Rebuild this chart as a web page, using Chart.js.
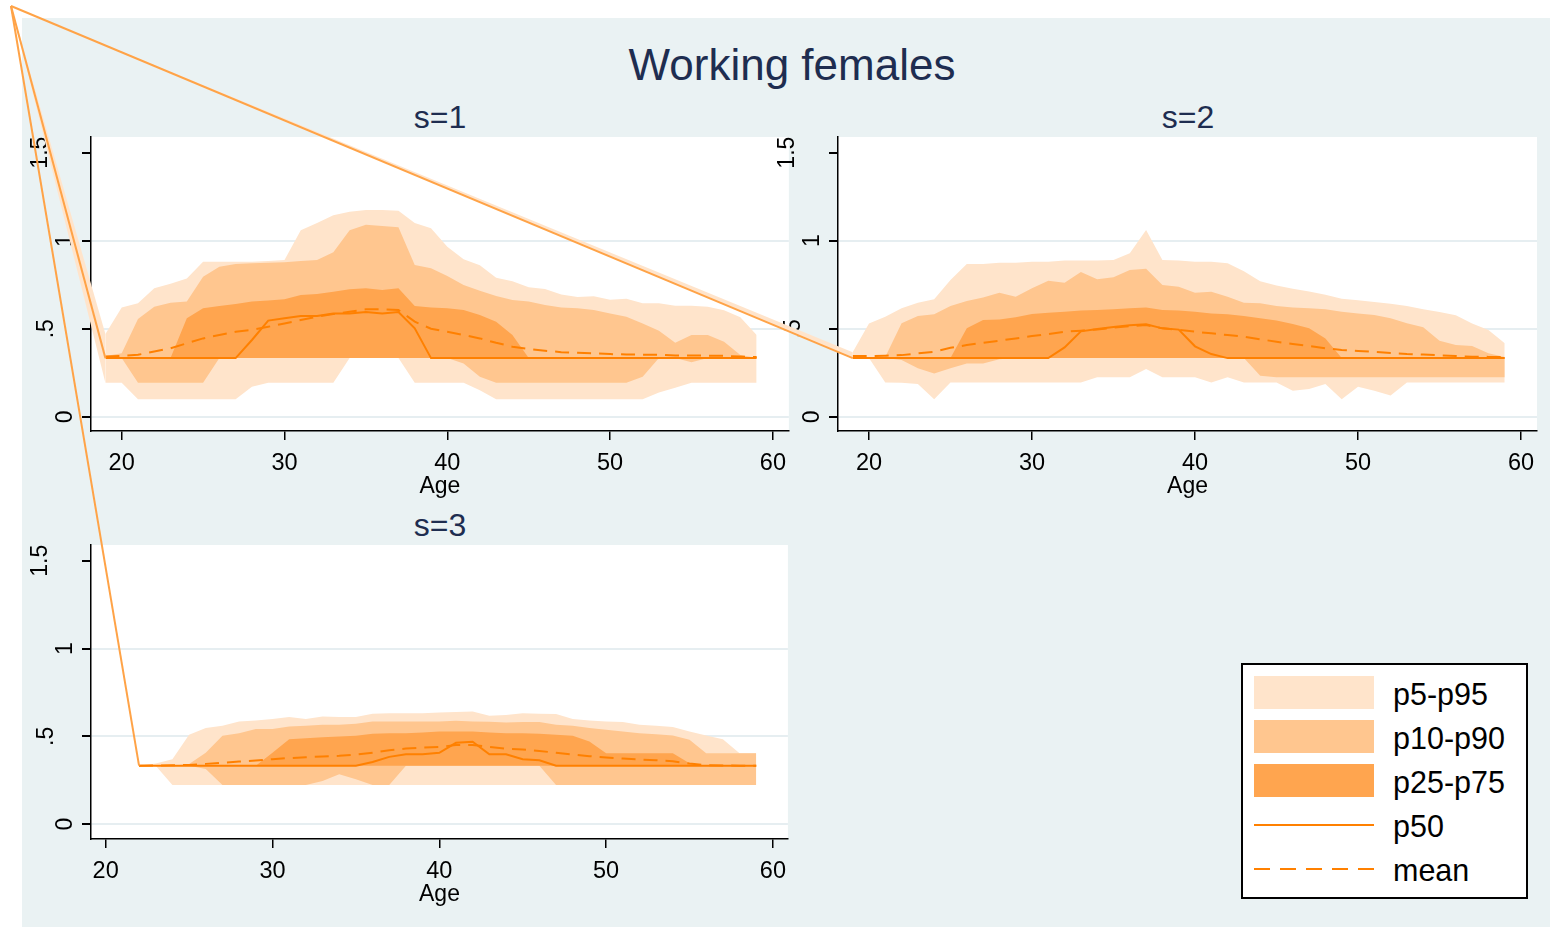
<!DOCTYPE html>
<html>
<head>
<meta charset="utf-8">
<script src="https://cdn.jsdelivr.net/npm/chart.js@4.4.1/dist/chart.umd.min.js"></script>
<style>
  body { margin: 0; background: #fff; }
  #page { position: relative; width: 1550px; height: 927px; overflow: hidden; font-family: 'Liberation Sans', Arial, Helvetica, sans-serif; }
  #bg { position: absolute; left: 22px; top: 18px; width: 1528px; height: 909px; background: #EAF2F3; }
  canvas { position: absolute; }
  .ttl { position: absolute; color: #1E2D50; text-align: center; white-space: nowrap; }
  #legend { position: absolute; left: 1241px; top: 663px; width: 287px; height: 236px; box-sizing: border-box; border: 2px solid #000; background: #fff; }
  #legend .sw { position: absolute; left: 11px; width: 120px; height: 33px; }
  #legend .tx { position: absolute; left: 150px; font-size: 30.5px; line-height: 34px; color: #000; }
</style>
</head>
<body>
<div id="page">
  <div id="bg"></div>
  <div class="ttl" style="left:0; width:1584px; top:43px; font-size:44px; line-height:44px;">Working females</div>
  <div class="ttl" style="left:340px; width:200px; top:101px; font-size:32px; line-height:32px;">s=1</div>
  <div class="ttl" style="left:1088px; width:200px; top:101px; font-size:32px; line-height:32px;">s=2</div>
  <div class="ttl" style="left:340px; width:200px; top:509px; font-size:32px; line-height:32px;">s=3</div>

  <canvas id="c1" width="768" height="375" style="left:22px; top:130px;"></canvas>
  <canvas id="c2" width="781" height="375" style="left:769px; top:130px;"></canvas>
  <canvas id="c3" width="768" height="375" style="left:22px; top:538px;"></canvas>
  <canvas id="ghost" width="1550" height="927" style="left:0; top:0;"></canvas>

  <div id="legend">
    <div class="sw" style="top:11px; background:#FFE4CB;"></div>
    <div class="sw" style="top:55px; background:#FFC68F;"></div>
    <div class="sw" style="top:99px; background:#FFA54F;"></div>
    <div style="position:absolute; left:11px; top:159px; width:120px; height:2px; background:#FF8000;"></div>
    <svg style="position:absolute; left:11px; top:198px;" width="120" height="12">
      <line x1="0" y1="6" x2="120" y2="6" stroke="#FF8000" stroke-width="2" stroke-dasharray="16,10"/>
    </svg>
    <div class="tx" style="top:12px;">p5-p95</div>
    <div class="tx" style="top:56px;">p10-p90</div>
    <div class="tx" style="top:100px;">p25-p75</div>
    <div class="tx" style="top:144px;">p50</div>
    <div class="tx" style="top:188px;">mean</div>
  </div>
</div>

<script>
const ages12 = [19, 20, 21, 22, 23, 24, 25, 26, 27, 28, 29, 30, 31, 32, 33, 34, 35, 36, 37, 38, 39,
    40, 41, 42, 43, 44, 45, 46, 47, 48, 49, 50, 51, 52, 53, 54, 55, 56, 57, 58, 59]
const ages3 = [22, 23, 24, 25, 26, 27, 28, 29, 30, 31, 32, 33, 34, 35, 36, 37, 38, 39,
    40, 41, 42, 43, 44, 45, 46, 47, 48, 49, 50, 51, 52, 53, 54, 55, 56, 57, 58, 59]

const xTicks = [20, 30, 40, 50, 60]
const yTicks = [0, 0.5, 1, 1.5]
const yTickLabels = ['0', '.5', '1', '1.5']

// s=1
const s1_p95 = [0.47, 0.62, 0.645, 0.73, 0.755, 0.785, 0.88, 0.88, 0.88, 0.88, 0.885, 0.89, 1.06, 1.10, 1.145, 1.165, 1.175, 1.175, 1.17, 1.10, 1.07,
    0.965, 0.895, 0.86, 0.79, 0.77, 0.735, 0.725, 0.695, 0.68, 0.685, 0.665, 0.67, 0.645, 0.645, 0.63, 0.63, 0.625, 0.605, 0.565, 0.465]
const s1_p90 = [0.345, 0.36, 0.555, 0.625, 0.648, 0.655, 0.795, 0.852, 0.868, 0.872, 0.875, 0.877, 0.885, 0.89, 0.935, 1.06, 1.09, 1.083, 1.076, 0.862, 0.843,
    0.80, 0.748, 0.716, 0.686, 0.663, 0.654, 0.635, 0.621, 0.616, 0.606, 0.587, 0.568, 0.53, 0.489, 0.42, 0.464, 0.464, 0.426, 0.35, 0.333]
const s1_p75 = [0.333, 0.333, 0.333, 0.333, 0.333, 0.559, 0.616, 0.629, 0.64, 0.654, 0.66, 0.667, 0.691, 0.697, 0.71, 0.724, 0.73, 0.72, 0.73, 0.629, 0.62,
    0.616, 0.606, 0.578, 0.54, 0.464, 0.333, 0.333, 0.333, 0.333, 0.333, 0.333, 0.333, 0.333, 0.333, 0.333, 0.333, 0.333, 0.333, 0.333, 0.333]
const s1_p25 = [0.333, 0.333, 0.333, 0.333, 0.333, 0.333, 0.333, 0.333, 0.333, 0.333, 0.333, 0.333, 0.333, 0.333, 0.333, 0.333, 0.333, 0.333, 0.333, 0.333, 0.333,
    0.333, 0.333, 0.333, 0.333, 0.333, 0.333, 0.333, 0.333, 0.333, 0.333, 0.333, 0.333, 0.333, 0.333, 0.333, 0.333, 0.333, 0.333, 0.333, 0.333]
const s1_p10 = [0.333, 0.333, 0.193, 0.193, 0.193, 0.193, 0.193, 0.333, 0.333, 0.333, 0.333, 0.333, 0.333, 0.333, 0.333, 0.333, 0.333, 0.333, 0.333, 0.333, 0.333,
    0.333, 0.303, 0.227, 0.193, 0.193, 0.193, 0.193, 0.193, 0.193, 0.193, 0.193, 0.193, 0.227, 0.333, 0.333, 0.31, 0.333, 0.333, 0.333, 0.333]
const s1_p5 = [0.193, 0.193, 0.10, 0.10, 0.10, 0.10, 0.10, 0.10, 0.10, 0.17, 0.193, 0.193, 0.193, 0.193, 0.193, 0.333, 0.333, 0.333, 0.333, 0.193, 0.193,
    0.193, 0.193, 0.15, 0.10, 0.10, 0.10, 0.10, 0.10, 0.10, 0.10, 0.10, 0.10, 0.10, 0.137, 0.165, 0.193, 0.193, 0.193, 0.193, 0.193]
const s1_p50 = [0.333, 0.333, 0.333, 0.333, 0.333, 0.333, 0.333, 0.333, 0.333, 0.436, 0.546, 0.559, 0.572, 0.572, 0.587, 0.587, 0.595, 0.587, 0.595, 0.502, 0.333,
    0.333, 0.333, 0.333, 0.333, 0.333, 0.333, 0.333, 0.333, 0.333, 0.333, 0.333, 0.333, 0.333, 0.333, 0.333, 0.333, 0.333, 0.333, 0.333, 0.333]
const s1_mean = [0.342, 0.346, 0.352, 0.37, 0.389, 0.417, 0.445, 0.464, 0.483, 0.493, 0.511, 0.53, 0.549, 0.568, 0.583, 0.597, 0.61, 0.61, 0.606, 0.54, 0.50,
    0.483, 0.464, 0.445, 0.42, 0.398, 0.385, 0.375, 0.367, 0.364, 0.36, 0.356, 0.354, 0.352, 0.352, 0.348, 0.348, 0.347, 0.346, 0.342, 0.339]

// s=2
const s2_p95 = [0.366, 0.53, 0.568, 0.616, 0.648, 0.667, 0.777, 0.868, 0.868, 0.875, 0.875, 0.881, 0.881, 0.887, 0.887, 0.887, 0.89, 0.928, 1.061, 0.89, 0.887,
    0.881, 0.881, 0.872, 0.826, 0.769, 0.746, 0.727, 0.712, 0.693, 0.67, 0.661, 0.652, 0.642, 0.629, 0.61, 0.595, 0.576, 0.53, 0.492, 0.417]
const s2_p90 = [0.333, 0.333, 0.34, 0.531, 0.572, 0.582, 0.629, 0.657, 0.678, 0.705, 0.682, 0.73, 0.773, 0.761, 0.822, 0.781, 0.792, 0.833, 0.841, 0.748, 0.739,
    0.705, 0.71, 0.682, 0.648, 0.644, 0.629, 0.621, 0.616, 0.61, 0.597, 0.587, 0.578, 0.559, 0.531, 0.508, 0.432, 0.408, 0.402, 0.36, 0.34]
const s2_p75 = [0.333, 0.333, 0.333, 0.333, 0.333, 0.333, 0.333, 0.502, 0.549, 0.553, 0.565, 0.584, 0.591, 0.597, 0.603, 0.606, 0.61, 0.616, 0.621, 0.606, 0.603,
    0.597, 0.587, 0.582, 0.572, 0.559, 0.546, 0.527, 0.502, 0.445, 0.333, 0.333, 0.333, 0.333, 0.333, 0.333, 0.333, 0.333, 0.333, 0.333, 0.333]
const s2_p25 = [0.333, 0.333, 0.333, 0.333, 0.333, 0.333, 0.333, 0.333, 0.333, 0.333, 0.333, 0.333, 0.333, 0.333, 0.333, 0.333, 0.333, 0.333, 0.333, 0.333, 0.333,
    0.333, 0.333, 0.333, 0.333, 0.333, 0.333, 0.333, 0.333, 0.333, 0.333, 0.333, 0.333, 0.333, 0.333, 0.333, 0.333, 0.333, 0.333, 0.333, 0.333]
const s2_p10 = [0.333, 0.333, 0.333, 0.322, 0.275, 0.246, 0.275, 0.303, 0.303, 0.326, 0.333, 0.333, 0.333, 0.333, 0.333, 0.333, 0.333, 0.333, 0.333, 0.333, 0.333,
    0.333, 0.333, 0.333, 0.333, 0.233, 0.224, 0.224, 0.224, 0.224, 0.224, 0.224, 0.224, 0.224, 0.224, 0.224, 0.224, 0.224, 0.224, 0.224, 0.224]
const s2_p5 = [0.333, 0.333, 0.195, 0.193, 0.186, 0.099, 0.195, 0.195, 0.195, 0.195, 0.195, 0.195, 0.195, 0.195, 0.195, 0.224, 0.224, 0.224, 0.271, 0.224, 0.224,
    0.224, 0.195, 0.224, 0.195, 0.195, 0.195, 0.148, 0.157, 0.186, 0.099, 0.17, 0.148, 0.12, 0.195, 0.195, 0.195, 0.195, 0.195, 0.195, 0.195]
const s2_p50 = [0.333, 0.333, 0.333, 0.333, 0.333, 0.333, 0.333, 0.333, 0.333, 0.333, 0.333, 0.333, 0.333, 0.394, 0.485, 0.498, 0.51, 0.519, 0.525, 0.502, 0.495,
    0.40, 0.356, 0.333, 0.333, 0.333, 0.333, 0.333, 0.333, 0.333, 0.333, 0.333, 0.333, 0.333, 0.333, 0.333, 0.333, 0.333, 0.333, 0.333, 0.333]
const s2_mean = [0.345, 0.345, 0.347, 0.35, 0.36, 0.369, 0.392, 0.407, 0.42, 0.432, 0.445, 0.458, 0.47, 0.483, 0.489, 0.496, 0.506, 0.515, 0.521, 0.502, 0.493,
    0.483, 0.474, 0.464, 0.455, 0.44, 0.426, 0.413, 0.402, 0.389, 0.379, 0.374, 0.368, 0.362, 0.356, 0.353, 0.349, 0.345, 0.341, 0.34, 0.339]

// s=3
const s3_p95 = [0.333, 0.345, 0.37, 0.509, 0.547, 0.56, 0.585, 0.59, 0.598, 0.61, 0.598, 0.613, 0.61, 0.61, 0.629, 0.632, 0.632, 0.632,
    0.636, 0.638, 0.642, 0.617, 0.621, 0.632, 0.629, 0.627, 0.598, 0.59, 0.585, 0.581, 0.566, 0.56, 0.553, 0.528, 0.505, 0.484, 0.404, 0.404]
const s3_p90 = [0.333, 0.333, 0.333, 0.343, 0.407, 0.503, 0.518, 0.541, 0.541, 0.556, 0.56, 0.566, 0.566, 0.572, 0.585, 0.585, 0.585, 0.585,
    0.585, 0.589, 0.585, 0.583, 0.579, 0.581, 0.581, 0.566, 0.56, 0.547, 0.537, 0.528, 0.518, 0.512, 0.505, 0.48, 0.404, 0.404, 0.404, 0.404]
const s3_p75 = [0.333, 0.333, 0.333, 0.333, 0.333, 0.333, 0.333, 0.333, 0.407, 0.483, 0.489, 0.495, 0.499, 0.503, 0.515, 0.518, 0.518, 0.522,
    0.528, 0.528, 0.528, 0.522, 0.518, 0.518, 0.515, 0.509, 0.503, 0.471, 0.404, 0.404, 0.404, 0.404, 0.404, 0.347, 0.333, 0.333, 0.333, 0.333]
const s3_p25 = [0.333, 0.333, 0.333, 0.333, 0.333, 0.333, 0.333, 0.333, 0.333, 0.333, 0.333, 0.333, 0.333, 0.333, 0.333, 0.333, 0.333, 0.333,
    0.333, 0.333, 0.333, 0.333, 0.333, 0.333, 0.333, 0.333, 0.333, 0.333, 0.333, 0.333, 0.333, 0.333, 0.333, 0.333, 0.333, 0.333, 0.333, 0.333]
const s3_p10 = [0.333, 0.333, 0.333, 0.333, 0.314, 0.223, 0.223, 0.223, 0.223, 0.223, 0.223, 0.246, 0.284, 0.255, 0.223, 0.223, 0.333, 0.333,
    0.333, 0.333, 0.333, 0.333, 0.333, 0.333, 0.333, 0.223, 0.223, 0.223, 0.223, 0.223, 0.223, 0.223, 0.223, 0.223, 0.223, 0.223, 0.223, 0.223]
const s3_p5 = [0.333, 0.333, 0.223, 0.223, 0.223, 0.223, 0.223, 0.223, 0.223, 0.223, 0.223, 0.223, 0.223, 0.223, 0.223, 0.223, 0.223, 0.223,
    0.223, 0.223, 0.223, 0.223, 0.223, 0.223, 0.223, 0.223, 0.223, 0.223, 0.223, 0.223, 0.223, 0.223, 0.223, 0.223, 0.223, 0.223, 0.223, 0.223]
const s3_p50 = [0.333, 0.333, 0.333, 0.333, 0.333, 0.333, 0.333, 0.333, 0.333, 0.333, 0.333, 0.333, 0.333, 0.333, 0.354, 0.383, 0.398, 0.398,
    0.406, 0.463, 0.469, 0.398, 0.398, 0.37, 0.364, 0.333, 0.333, 0.333, 0.333, 0.333, 0.333, 0.333, 0.333, 0.333, 0.333, 0.333, 0.333, 0.333]
const s3_mean = [0.333, 0.334, 0.335, 0.337, 0.343, 0.349, 0.356, 0.362, 0.37, 0.376, 0.381, 0.385, 0.389, 0.396, 0.406, 0.421, 0.43, 0.436,
    0.44, 0.45, 0.45, 0.44, 0.43, 0.425, 0.417, 0.406, 0.396, 0.387, 0.379, 0.373, 0.368, 0.364, 0.358, 0.345, 0.335, 0.334, 0.333, 0.333]

const FONT = "'Liberation Sans', Arial, Helvetica, sans-serif"
const C95 = '#FFE4CB'
const C90 = '#FFC68F'
const C75 = '#FFA54F'
const CLINE = '#FF8000'
const CGHOST = '#FFA347'
const GRID = '#E6EEF1'
// how far left of the axis each rotated y label sits (baseline)
const yLabelGap = [19, 38.5, 19, 44]

const pts = (ages, vals) => ages.map((a, i) => ({ x: a, y: vals[i] }))

const band = (ages, vals, color, target, order) => ({
    data: pts(ages, vals),
    borderWidth: 0,
    borderColor: 'rgba(0,0,0,0)',
    backgroundColor: color,
    pointRadius: 0,
    fill: target === null ? false : { target: target },
    order: order
})

const plotBg = {
    id: 'plotBg',
    beforeDraw(chart) {
        const { ctx, chartArea: a } = chart
        ctx.save()
        ctx.fillStyle = '#fff'
        ctx.fillRect(a.left, a.top, a.right - a.left, a.bottom - a.top)
        ctx.restore()
    }
}

// Stata-style vertical y labels
const yLabels = {
    id: 'yLabels',
    afterDraw(chart) {
        const ctx = chart.ctx
        const y = chart.scales.y
        const left = chart.chartArea.left
        ctx.save()
        ctx.fillStyle = '#000'
        ctx.font = '23px ' + FONT
        ctx.textAlign = 'center'
        ctx.textBaseline = 'alphabetic'
        yTicks.forEach((v, i) => {
            ctx.save()
            ctx.translate(left - yLabelGap[i], y.getPixelForValue(v))
            ctx.rotate(-Math.PI / 2)
            ctx.fillText(yTickLabels[i], 0, 0)
            ctx.restore()
        })
        ctx.restore()
    }
}

const makePanel = (id, ages, d, xMin, xMax, yMin, yMax, rightPad) => {
    const ctx = document.getElementById(id).getContext('2d')
    return new Chart(ctx, {
        type: 'line',
        data: {
            datasets: [
                band(ages, d.p95, C95, 1, 10),
                band(ages, d.p5, C95, null, 10),
                band(ages, d.p90, C90, 3, 9),
                band(ages, d.p10, C90, null, 9),
                band(ages, d.p75, C75, 5, 8),
                band(ages, d.p25, C75, null, 8),
                {
                    data: pts(ages, d.p50),
                    borderColor: CLINE,
                    borderWidth: 2,
                    pointRadius: 0,
                    fill: false,
                    order: 2
                },
                {
                    data: pts(ages, d.mean),
                    borderColor: CLINE,
                    borderWidth: 2,
                    borderDash: [14, 8],
                    pointRadius: 0,
                    fill: false,
                    order: 1
                }
            ]
        },
        options: {
            responsive: false,
            animation: false,
            devicePixelRatio: 1,
            layout: { padding: { top: 7, right: rightPad, left: 0, bottom: 0 } },
            plugins: {
                legend: { display: false },
                tooltip: { enabled: false }
            },
            scales: {
                x: {
                    type: 'linear',
                    min: xMin,
                    max: xMax,
                    border: { color: '#000', width: 1.5 },
                    grid: { drawOnChartArea: false, tickLength: 9, tickColor: '#000', lineWidth: 1.5 },
                    ticks: { color: '#000', font: { family: FONT, size: 23.5, lineHeight: 1.62 }, padding: 4, maxRotation: 0 },
                    title: { display: true, text: 'Age', color: '#000', font: { family: FONT, size: 23 }, padding: { top: 0, bottom: 5 } },
                    afterBuildTicks: axis => { axis.ticks = xTicks.map(v => ({ value: v })) },
                    afterFit: axis => { axis.height = 74 }
                },
                y: {
                    min: yMin,
                    max: yMax,
                    border: { color: '#000', width: 1.5 },
                    grid: {
                        color: c => (c.tick && c.tick.value === 1.5 ? 'rgba(0,0,0,0)' : GRID),
                        lineWidth: 2,
                        tickLength: 9,
                        tickColor: '#000'
                    },
                    ticks: { display: false },
                    afterBuildTicks: axis => { axis.ticks = yTicks.map(v => ({ value: v })) },
                    afterFit: axis => { axis.width = 69 }
                }
            }
        },
        plugins: [plotBg, yLabels]
    })
}

const chart1 = makePanel('c1', ages12,
    { p5: s1_p5, p10: s1_p10, p25: s1_p25, p50: s1_p50, p75: s1_p75, p90: s1_p90, p95: s1_p95, mean: s1_mean },
    18.115, 60.98, -0.081, 1.589, 1)
const chart2 = makePanel('c2', ages12,
    { p5: s2_p5, p10: s2_p10, p25: s2_p25, p50: s2_p50, p75: s2_p75, p90: s2_p90, p95: s2_p95, mean: s2_mean },
    18.1, 60.98, -0.081, 1.589, 13)
const chart3 = makePanel('c3', ages3,
    { p5: s3_p5, p10: s3_p10, p25: s3_p25, p50: s3_p50, p75: s3_p75, p90: s3_p90, p95: s3_p95, mean: s3_mean },
    19.12, 60.9, -0.085, 1.59, 1)

// stray paths in the source: every panel's first point is joined to the page corner
const ghost = document.getElementById('ghost').getContext('2d')
const apex = [11, 6]
;[[chart1, 22, 130], [chart2, 769, 130], [chart3, 22, 538]].forEach(([chart, ox, oy]) => {
    const hi = chart.getDatasetMeta(0).data[0]
    const lo = chart.getDatasetMeta(1).data[0]
    const mid = chart.getDatasetMeta(6).data[0]
    ghost.fillStyle = C95
    ghost.beginPath()
    ghost.moveTo(apex[0], apex[1])
    ghost.lineTo(hi.x + ox, hi.y + oy)
    ghost.lineTo(lo.x + ox, lo.y + oy)
    ghost.closePath()
    ghost.fill()
    ghost.strokeStyle = CGHOST
    ghost.lineWidth = 2
    ghost.beginPath()
    ghost.moveTo(apex[0], apex[1])
    ghost.lineTo(mid.x + ox, mid.y + oy)
    ghost.stroke()
})
</script>
</body>
</html>
